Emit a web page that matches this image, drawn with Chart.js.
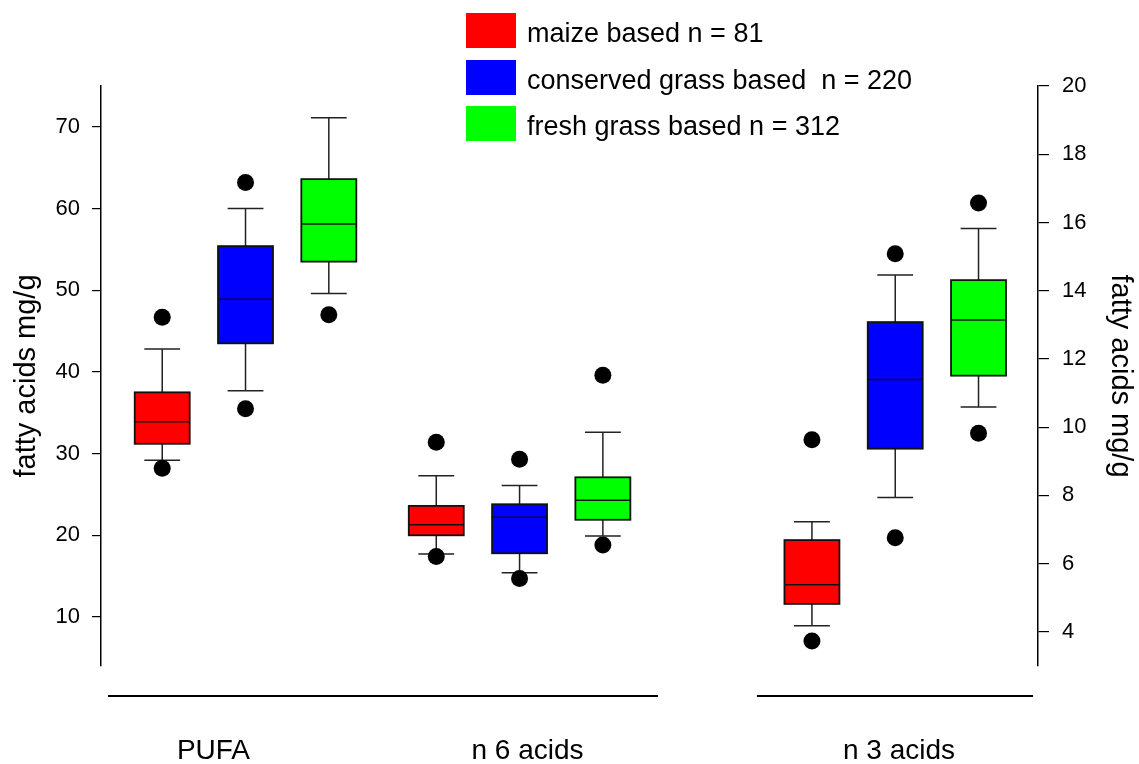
<!DOCTYPE html>
<html>
<head>
<meta charset="utf-8">
<script src="https://cdn.jsdelivr.net/npm/chart.js@4/dist/chart.umd.min.js"></script>
<style>
  html, body { margin: 0; padding: 0; background: #fff; }
  #wrap { position: relative; width: 1139px; height: 764px; }
  #legend { position: absolute; left: 466px; top: 13px; font-family: "Liberation Sans", Arial, sans-serif; font-size: 27px; color: #000; }
  .item { position: relative; height: 35px; margin-bottom: 11.5px; white-space: pre; }
  .sw { position: absolute; left: 0; top: 0; width: 50px; height: 35px; }
  .lab { position: absolute; left: 61px; top: 0; line-height: 40px; }
</style>
</head>
<body>
<div id="wrap">
  <canvas id="c" width="1139" height="764"></canvas>
  <div id="legend"></div>
</div>
<script>
// ---------------- data ----------------
const categories = ['PUFA', 'n 6 acids', 'n 3 acids'];
const seriesNames = ['maize based n = 81', 'conserved grass based  n = 220', 'fresh grass based n = 312'];
const seriesColors = ['#ff0000', '#0000ff', '#00ff00'];
// each entry per category: [low outlier, low whisker, Q1, median, Q3, high whisker, high outlier]
const maizeStats = [
  [28.2, 29.2, 31.2, 33.9, 37.5, 42.8, 46.7],
  [17.4, 17.7, 20.0, 21.3, 23.6, 27.3, 31.4],
  [3.73, 4.18, 4.82, 5.38, 6.69, 7.23, 9.63]
];
const conservedStats = [
  [35.5, 37.7, 43.5, 48.9, 55.4, 60.0, 63.2],
  [14.7, 15.4, 17.8, 22.2, 23.8, 26.1, 29.3],
  [6.76, 7.94, 9.37, 11.40, 13.08, 14.46, 15.08]
];
const freshStats = [
  [47.0, 49.6, 53.5, 58.1, 63.6, 71.1, null],
  [18.8, 19.9, 21.9, 24.3, 27.1, 32.6, 39.6],
  [9.82, 10.59, 11.51, 13.14, 14.31, 15.82, 16.57]
];
const leftTicks = [10, 20, 30, 40, 50, 60, 70];
const rightTicks = [4, 6, 8, 10, 12, 14, 16, 18, 20];

// ---------------- layout (not data) ----------------
const allStats = [maizeStats, conservedStats, freshStats];
const groupPos = [1.735, 5.025, 9.535];
const seriesOffset = [-1, 0, 1];
const labelPos = [1.35, 5.12, 9.58];
const baseSegments = [[0.084, 6.687], [7.875, 11.19]];
const axisForCategory = ['y', 'y', 'y2'];
const boxHalf = 0.33, capHalf = 0.215;

// legend
const lg = document.getElementById('legend');
seriesNames.forEach((n, i) => {
  const d = document.createElement('div'); d.className = 'item';
  d.innerHTML = '<div class="sw" style="background:' + seriesColors[i] + '"></div><div class="lab"></div>';
  d.querySelector('.lab').textContent = n;
  lg.appendChild(d);
});

// outlier datasets
const datasets = [];
allStats.forEach((stats, s) => {
  ['y', 'y2'].forEach(ax => {
    const pts = [];
    stats.forEach((st, c) => {
      if (axisForCategory[c] !== ax) return;
      const x = groupPos[c] + seriesOffset[s];
      if (st[0] != null) pts.push({ x: x, y: st[0] });
      if (st[6] != null) pts.push({ x: x, y: st[6] });
    });
    datasets.push({
      label: seriesNames[s] + ' outliers', data: pts, yAxisID: ax,
      backgroundColor: '#000', borderWidth: 0, pointRadius: 8.5, pointHoverRadius: 8.5
    });
  });
});

const boxPlugin = {
  id: 'boxes',
  beforeDatasetsDraw(chart) {
    const ctx = chart.ctx, xs = chart.scales.x;
    ctx.save();
    allStats.forEach((stats, s) => {
      stats.forEach((st, c) => {
        const ys = chart.scales[axisForCategory[c]];
        const xc = groupPos[c] + seriesOffset[s];
        const xl = xs.getPixelForValue(xc - boxHalf), xr = xs.getPixelForValue(xc + boxHalf);
        const xm = xs.getPixelForValue(xc);
        const cl = xs.getPixelForValue(xc - capHalf), cr = xs.getPixelForValue(xc + capHalf);
        const pWL = ys.getPixelForValue(st[1]), pQ1 = ys.getPixelForValue(st[2]);
        const pMed = ys.getPixelForValue(st[3]), pQ3 = ys.getPixelForValue(st[4]);
        const pWH = ys.getPixelForValue(st[5]);
        ctx.strokeStyle = '#222'; ctx.lineWidth = 1.5;
        ctx.beginPath();
        ctx.moveTo(xm, pQ1); ctx.lineTo(xm, pWL);
        ctx.moveTo(cl, pWL); ctx.lineTo(cr, pWL);
        ctx.moveTo(xm, pQ3); ctx.lineTo(xm, pWH);
        ctx.moveTo(cl, pWH); ctx.lineTo(cr, pWH);
        ctx.stroke();
        ctx.fillStyle = seriesColors[s];
        ctx.fillRect(xl, pQ3, xr - xl, pQ1 - pQ3);
        ctx.strokeStyle = '#111'; ctx.lineWidth = 1.8;
        ctx.strokeRect(xl, pQ3, xr - xl, pQ1 - pQ3);
        ctx.lineWidth = 1.5;
        ctx.beginPath(); ctx.moveTo(xl, pMed); ctx.lineTo(xr, pMed); ctx.stroke();
      });
    });
    ctx.restore();
  },
  afterDraw(chart) {
    const ctx = chart.ctx, xs = chart.scales.x, ca = chart.chartArea;
    ctx.save();
    ctx.strokeStyle = '#000'; ctx.lineWidth = 2;
    const yb = ca.bottom + 30;
    baseSegments.forEach(seg => {
      ctx.beginPath();
      ctx.moveTo(xs.getPixelForValue(seg[0]), yb);
      ctx.lineTo(xs.getPixelForValue(seg[1]), yb);
      ctx.stroke();
    });
    ctx.fillStyle = '#000';
    ctx.font = '28px "Liberation Sans", Arial, sans-serif';
    ctx.textAlign = 'center'; ctx.textBaseline = 'middle';
    categories.forEach((c, i) => ctx.fillText(c, xs.getPixelForValue(labelPos[i]), ca.bottom + 85));
    ctx.restore();
  }
};

const tickFont = { family: '"Liberation Sans", Arial, sans-serif', size: 22 };
const titleFont = { family: '"Liberation Sans", Arial, sans-serif', size: 29 };

new Chart(document.getElementById('c'), {
  type: 'scatter',
  data: { datasets: datasets },
  plugins: [boxPlugin],
  options: {
    responsive: false, animation: false,
    layout: { padding: { top: 86, bottom: 98, left: 0, right: 0 } },
    plugins: { legend: { display: false }, tooltip: { enabled: false } },
    scales: {
      x: { type: 'linear', min: 0, max: 11.249, display: false },
      y: {
        position: 'left', min: 4, max: 75,
        afterBuildTicks: s => { s.ticks = leftTicks.map(v => ({ value: v })); },
        afterFit: s => { s.width = 101; },
        grid: { drawOnChartArea: false, drawTicks: true, tickLength: 9, color: '#000', lineWidth: 1.2 },
        border: { display: true, color: '#000', width: 1.5 },
        ticks: { color: '#000', font: tickFont, padding: 12 },
        title: { display: true, text: 'fatty acids mg/g', color: '#000', font: titleFont, padding: { top: 10, bottom: 0 } }
      },
      y2: {
        position: 'right', min: 3, max: 20,
        afterBuildTicks: s => { s.ticks = rightTicks.map(v => ({ value: v })); },
        afterFit: s => { s.width = 101; },
        grid: { drawOnChartArea: false, drawTicks: true, tickLength: 11, color: '#000', lineWidth: 1.2 },
        border: { display: true, color: '#000', width: 1.5 },
        ticks: { color: '#000', font: tickFont, padding: 13 },
        title: { display: true, text: 'fatty acids mg/g', color: '#000', font: titleFont, padding: { top: 2, bottom: 0 } }
      }
    }
  }
});
</script>
</body>
</html>
